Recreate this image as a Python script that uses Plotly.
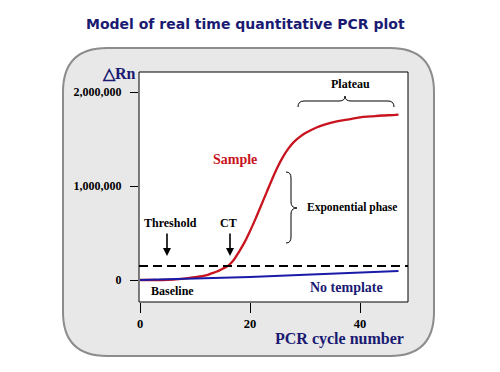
import plotly.graph_objects as go

# ---------------- data ----------------
sample_cycles = [0, 2, 4, 6, 8, 10, 12, 13, 14, 15, 16, 17, 18, 19, 20, 21, 22, 23, 24,
                 25, 26, 27, 28, 29, 30, 32, 34, 36, 38, 40, 42, 44, 46, 47]
sample_rn = [0, 0, 0, 5000, 15000, 30000, 50000, 70000, 90000, 120000, 150000, 210000,
             300000, 400000, 520000, 650000, 790000, 930000, 1070000, 1200000, 1310000,
             1400000, 1470000, 1520000, 1560000, 1620000, 1660000, 1690000, 1710000,
             1730000, 1740000, 1750000, 1755000, 1760000]
notemplate_cycles = [0, 10, 20, 30, 40, 47]
notemplate_rn = [0, 12000, 32000, 55000, 77000, 95000]
threshold_rn = 150000
x_ticks = [0, 20, 40]
y_ticks = [0, 1000000, 2000000]
y_ticklabels = ["0", "1,000,000", "2,000,000"]

W, H = 500, 372
L, R, T, B = 139, 408, 72, 302  # plot area in px


def px(x):
    return (x - L) / (R - L)


def py(y):
    return (B - y) / (B - T)


NAVY = "#1a1a72"
RED = "#c8141e"
SERIF = "Liberation Serif, Times New Roman, serif"

fig = go.Figure()
fig.add_trace(go.Scatter(x=sample_cycles, y=sample_rn, mode="lines",
                         line=dict(color=RED, width=2.3, shape="spline"), hoverinfo="skip"))
fig.add_trace(go.Scatter(x=notemplate_cycles, y=notemplate_rn, mode="lines",
                         line=dict(color="#1a1aa8", width=2), hoverinfo="skip"))

shapes = []
# grey rounded background panel
bx0, by0, bx1, by1, r = 63, 48, 434, 356, 44
path = (f"M {px(bx0)},{py(by0 + r)} Q {px(bx0)},{py(by0)} {px(bx0 + r)},{py(by0)} "
        f"L {px(bx1 - r)},{py(by0)} Q {px(bx1)},{py(by0)} {px(bx1)},{py(by0 + r)} "
        f"L {px(bx1)},{py(by1 - r)} Q {px(bx1)},{py(by1)} {px(bx1 - r)},{py(by1)} "
        f"L {px(bx0 + r)},{py(by1)} Q {px(bx0)},{py(by1)} {px(bx0)},{py(by1 - r)} Z")
shapes.append(dict(type="path", xref="paper", yref="paper", path=path,
                   fillcolor="#e8e8e8", line=dict(color="#8c8c8c", width=2), layer="below"))
# white plot box
shapes.append(dict(type="rect", xref="paper", yref="paper", x0=0, y0=0, x1=1, y1=1,
                   fillcolor="white", line=dict(color="black", width=1), layer="below"))
# threshold line
shapes.append(dict(type="line", xref="paper", yref="y", x0=0, x1=1, y0=threshold_rn, y1=threshold_rn,
                   line=dict(color="black", width=2, dash="9px,5px")))
# horizontal brace (plateau)
x0, x1, xm = 298, 394, 345
yb, ya, yt = 107, 101, 96
bp = (f"M {px(x0)},{py(yb)} Q {px(x0)},{py(ya)} {px(x0 + 6)},{py(ya)} "
      f"L {px(xm - 6)},{py(ya)} Q {px(xm)},{py(ya)} {px(xm)},{py(yt)} "
      f"Q {px(xm)},{py(ya)} {px(xm + 6)},{py(ya)} "
      f"L {px(x1 - 6)},{py(ya)} Q {px(x1)},{py(ya)} {px(x1)},{py(yb)}")
shapes.append(dict(type="path", xref="paper", yref="paper", path=bp,
                   line=dict(color="black", width=1)))
# vertical brace (exponential phase)
xe, xa, xt = 286, 291, 297
y0, y1, ym = 172, 243, 208
vp = (f"M {px(xe)},{py(y0)} Q {px(xa)},{py(y0)} {px(xa)},{py(y0 + 6)} "
      f"L {px(xa)},{py(ym - 6)} Q {px(xa)},{py(ym)} {px(xt)},{py(ym)} "
      f"Q {px(xa)},{py(ym)} {px(xa)},{py(ym + 6)} "
      f"L {px(xa)},{py(y1 - 6)} Q {px(xa)},{py(y1)} {px(xe)},{py(y1)}")
shapes.append(dict(type="path", xref="paper", yref="paper", path=vp,
                   line=dict(color="black", width=1)))


def txt(x, y, s, size=11, color="black", family=SERIF, weight="bold"):
    return dict(xref="paper", yref="paper", x=px(x), y=py(y), text=s, showarrow=False,
                xanchor="center", yanchor="middle",
                font=dict(size=size, color=color, family=family, weight=weight))


annotations = [
    txt(245, 24, "Model of real time quantitative PCR plot", size=14, color=NAVY,
        family="DejaVu Sans, Verdana, sans-serif"),
    txt(119, 73, "△Rn", size=16, color=NAVY),
    txt(350, 84, "Plateau", size=12),
    txt(235, 159, "Sample", size=14, color=RED),
    txt(352, 208, "Exponential phase", size=11.5),
    txt(170, 223, "Threshold", size=12),
    txt(228, 223, "CT", size=12),
    txt(172, 291, "Baseline", size=12),
    txt(346, 287, "No template", size=14, color=NAVY),
    txt(339, 339, "PCR cycle number", size=16, color=NAVY),
]
# arrows
for xc in (167, 230):
    annotations.append(dict(xref="paper", yref="paper", x=px(xc), y=py(256), ax=0, ay=-24,
                            showarrow=True, text="",
                            arrowhead=2, arrowsize=1, arrowwidth=1.6, arrowcolor="black"))

fig.update_layout(
    width=W, height=H,
    margin=dict(l=L, r=W - R, t=T, b=H - B),
    paper_bgcolor="white", plot_bgcolor="rgba(0,0,0,0)",
    showlegend=False,
    shapes=shapes, annotations=annotations,
    xaxis=dict(range=[(L - 140) / 5.5, (R - 140) / 5.5], tickvals=x_ticks,
               ticks="outside", ticklen=10, tickcolor="black", tickwidth=1,
               showgrid=False, zeroline=False, showline=False,
               tickfont=dict(family=SERIF, size=12.5, color="black", weight="bold")),
    yaxis=dict(range=[(280 - B) / 94 * 1e6, (280 - T) / 94 * 1e6], tickvals=y_ticks,
               ticktext=y_ticklabels,
               ticks="outside", ticklen=8, tickcolor="black", tickwidth=1,
               ticklabelstandoff=6,
               showgrid=False, zeroline=False, showline=False,
               tickfont=dict(family=SERIF, size=12, color="black", weight="bold")),
)

fig.write_html("out.html", config={"displayModeBar": False},
               post_script="document.body.style.margin='0';")
